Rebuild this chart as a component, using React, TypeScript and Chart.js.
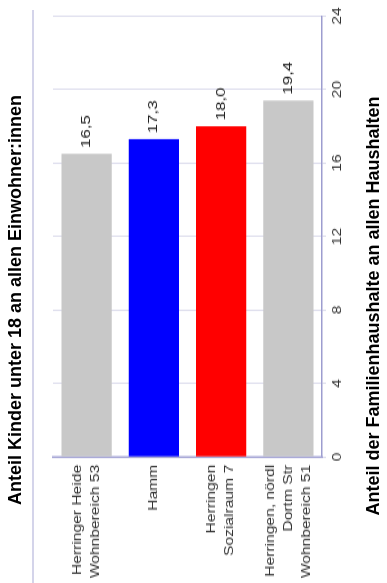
import React, { useEffect, useRef } from "react";
import { Chart, registerables } from "chart.js";

Chart.register(...registerables);

// ---- data ----
const categories: (string | string[])[] = [
  ["Herringer Heide", "Wohnbereich 53"],
  "Hamm",
  ["Herringen", "Sozialraum 7"],
  ["Herringen, nördl", "Dortm Str", "Wohnbereich 51"],
];
const values: number[] = [16.5, 17.3, 18.0, 19.4];
const barColors: string[] = ["#c8c8c8", "#0000ff", "#ff0000", "#c8c8c8"];
const axisMin = 0;
const axisMax = 24;
const axisStep = 4;
const chartTitle = "Anteil Kinder unter 18 an allen Einwohner:innen";
const axisTitle = "Anteil der Familienhaushalte an allen Haushalten";

// ---- layout (in the chart's own, unrotated frame) ----
const FAMILY = 'Arial, "Liberation Sans", Helvetica, sans-serif';
const FULL_W = 583;
const FULL_H = 387;
const CANVAS_W = 448;
const CANVAS_H = 347;
const CANVAS_TOP = 40;
const STRETCH = FULL_W / CANVAS_W;

const valueLabels = {
  id: "valueLabels",
  afterDatasetsDraw(chart: any) {
    const ctx = chart.ctx;
    const meta = chart.getDatasetMeta(0);
    const data = chart.data.datasets[0].data as number[];
    ctx.save();
    ctx.font = `13px ${FAMILY}`;
    ctx.fillStyle = "#222";
    ctx.textAlign = "left";
    ctx.textBaseline = "middle";
    meta.data.forEach((el: any, i: number) => {
      const txt = data[i].toFixed(1).replace(".", ",");
      ctx.fillText(txt, el.x + 4.5, el.y);
    });
    ctx.restore();
  },
};

export default function App() {
  const ref = useRef<HTMLCanvasElement | null>(null);

  useEffect(() => {
    if (!ref.current) return;
    const chart = new Chart(ref.current, {
      type: "bar",
      data: {
        labels: categories as any,
        datasets: [
          {
            data: values,
            backgroundColor: barColors,
            borderWidth: 0,
            barPercentage: 0.745,
            categoryPercentage: 1,
          },
        ],
      },
      options: {
        indexAxis: "y",
        responsive: false,
        animation: false,
        devicePixelRatio: 1,
        layout: { padding: { left: 0, right: 12.3, top: 13, bottom: 0 } },
        plugins: {
          legend: { display: false },
          title: { display: false },
          tooltip: { enabled: false },
        },
        scales: {
          x: {
            min: axisMin,
            max: axisMax,
            ticks: {
              stepSize: axisStep,
              color: "#333",
              font: { size: 12, family: FAMILY },
              padding: 4,
              maxRotation: 0,
            },
            grid: { color: "#dcdcec", lineWidth: 1, tickLength: 4, drawTicks: true },
            border: { display: true, color: "#9d9dcf", width: 1.5 },
            afterFit: (s: any) => {
              s.height = 65;
              s.paddingLeft = 0;
              s.paddingRight = 0;
            },
          },
          y: {
            ticks: {
              color: "#333",
              font: { size: 12, family: FAMILY, lineHeight: 1.5 },
              padding: 6,
              autoSkip: false,
            },
            grid: { display: false, drawTicks: false },
            border: { display: true, color: "#a5a5d5", width: 1.5 },
            afterFit: (s: any) => {
              s.width = 96.8;
              s.paddingTop = 0;
              s.paddingBottom = 0;
            },
          },
        },
      } as any,
      plugins: [valueLabels],
    });
    return () => chart.destroy();
  }, []);

  return (
    <div
      style={{
        position: "fixed",
        left: 0,
        top: 0,
        width: FULL_W,
        height: FULL_H,
        transformOrigin: "0 0",
        transform: `translateY(${FULL_W}px) rotate(-90deg)`,
        background: "#fff",
        overflow: "hidden",
      }}
    >
      <div
        style={{
          position: "absolute",
          left: 0,
          top: 5,
          width: 566,
          height: 24,
          lineHeight: "24px",
          textAlign: "center",
          font: `bold 18px ${FAMILY}`,
          color: "#000",
          whiteSpace: "nowrap",
        }}
      >
        {chartTitle}
      </div>
      <div
        style={{
          position: "absolute",
          left: 0,
          top: 32,
          width: 573,
          height: 2,
          background: "#d4d4ea",
        }}
      />
      <div
        style={{
          position: "absolute",
          left: 0,
          top: CANVAS_TOP,
          width: CANVAS_W,
          height: CANVAS_H,
          transformOrigin: "0 0",
          transform: `scaleX(${STRETCH})`,
        }}
      >
        <canvas
          ref={ref}
          width={CANVAS_W}
          height={CANVAS_H}
          style={{ display: "block", width: CANVAS_W, height: CANVAS_H }}
        />
      </div>
      <div
        style={{
          position: "absolute",
          left: 0,
          top: 363,
          width: 554,
          height: 24,
          lineHeight: "24px",
          textAlign: "center",
          font: `bold 18px ${FAMILY}`,
          color: "#000",
          whiteSpace: "nowrap",
        }}
      >
        {axisTitle}
      </div>
    </div>
  );
}
